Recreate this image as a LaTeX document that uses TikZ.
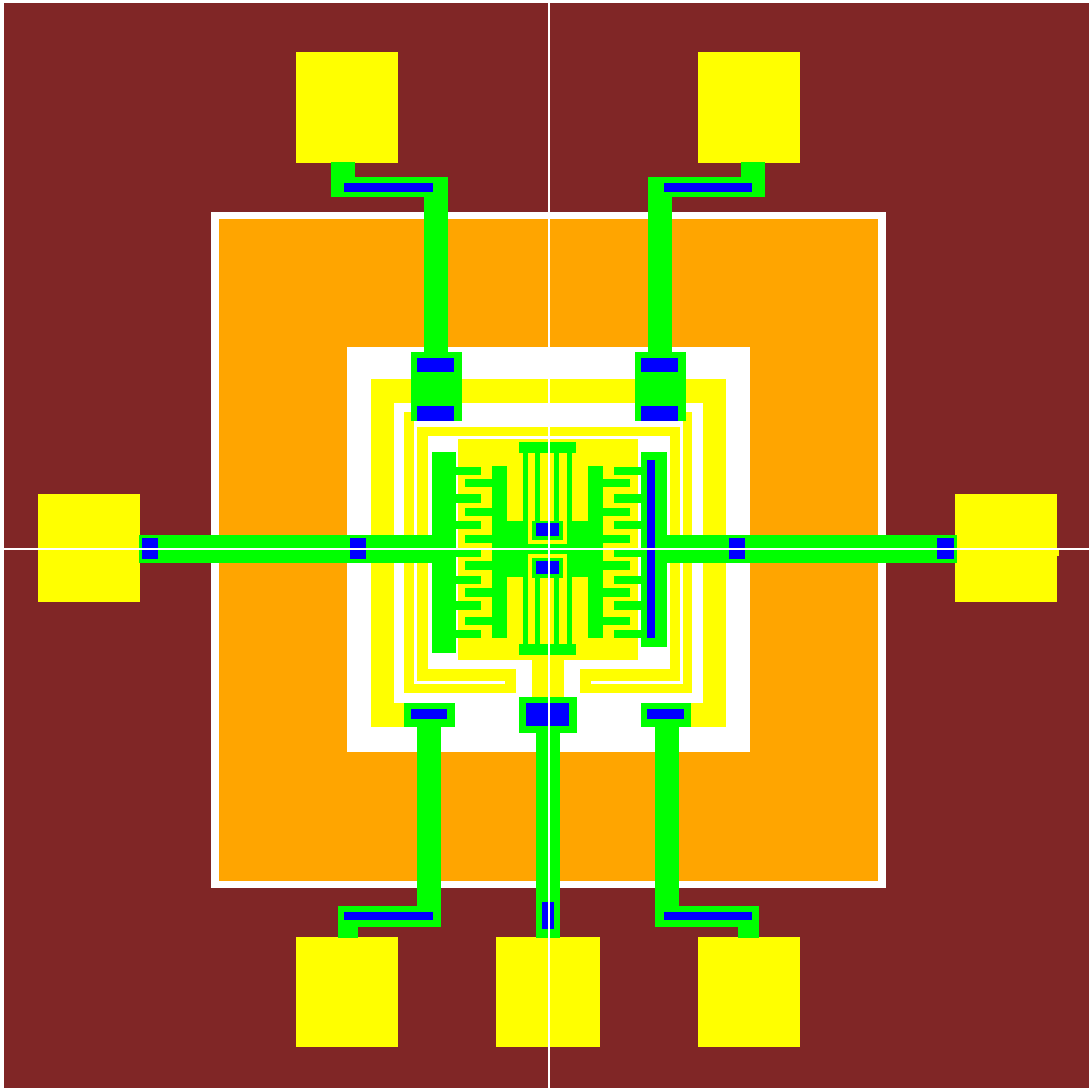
\documentclass[tikz,border=0pt]{standalone}
\definecolor{substrate}{RGB}{128,38,38}
\definecolor{oxide}{RGB}{255,165,0}
\definecolor{poly}{RGB}{255,255,0}
\definecolor{metal}{RGB}{0,255,0}
\definecolor{via}{RGB}{0,0,255}
\tikzset{
  sub/.style={fill=substrate},
  clr/.style={fill=white},
  oxd/.style={fill=oxide},
  yel/.style={fill=poly},
  grn/.style={fill=metal},
  blu/.style={fill=via}
}
\newcommand{\bx}[5]{\path[#5] (#1,#2) rectangle (#3,#4);}
\begin{document}
\begin{tikzpicture}[x=1pt,y=-1pt]
\useasboundingbox (0,0) rectangle (1089,1089);
\bx{0}{0}{1089}{1089}{clr}
\bx{4}{3}{1089}{1088}{sub}
% field
\bx{211}{212}{886}{888}{clr}
\bx{219}{219}{878}{881}{oxd}
\bx{347}{347}{750}{752}{clr}
% outer yellow ring
\bx{371}{379}{726}{727}{yel}
\bx{394}{403}{703}{703}{clr}
\bx{404}{703}{691}{727}{clr}
% L-shaped tracks left
\bx{404}{412}{414}{693}{yel}
\bx{417}{427}{428}{693}{yel}
\bx{404}{669}{516}{693}{yel}
\bx{414}{669}{417}{684}{clr}
\bx{414}{681}{505}{684}{clr}
% L-shaped tracks right
\bx{683}{412}{692}{693}{yel}
\bx{669.5}{427}{680}{693}{yel}
\bx{580}{669}{692}{693}{yel}
\bx{680}{669}{683}{684}{clr}
\bx{591}{681}{683}{684}{clr}
% top track
\bx{417}{427}{680}{435.5}{yel}
% central block
\bx{458}{439}{638}{660}{yel}
\bx{532}{660}{564}{697}{yel}
% pads
\bx{296}{52}{398}{163}{yel}
\bx{698}{52}{800}{163}{yel}
\bx{38}{494}{140}{602}{yel}
\bx{955}{494}{1057}{602}{yel}
\bx{1057}{550}{1059}{556}{yel}
\bx{296}{937}{398}{1047}{yel}
\bx{496}{937}{600}{1047}{yel}
\bx{698}{937}{800}{1047}{yel}
% horizontal leads
\bx{139}{535}{456}{563}{grn}
\bx{641}{535}{957}{563}{grn}
% outer spines
\bx{432}{452}{455.5}{653}{grn}
\bx{641}{452}{667}{647}{grn}
% left comb fingers
\bx{455}{467}{481}{475}{grn}
\bx{455}{494}{481}{503}{grn}
\bx{455}{521}{481}{529}{grn}
\bx{455}{550}{481}{557}{grn}
\bx{455}{576}{481}{584}{grn}
\bx{455}{601}{481}{610}{grn}
\bx{455}{630}{481}{638}{grn}
% right comb fingers
\bx{614}{467}{642}{475}{grn}
\bx{614}{494}{642}{503}{grn}
\bx{614}{521}{642}{529}{grn}
\bx{614}{550}{642}{557}{grn}
\bx{614}{576}{642}{584}{grn}
\bx{614}{601}{642}{610}{grn}
\bx{614}{630}{642}{638}{grn}
% inner spines and centre
\bx{492}{466}{507}{638}{grn}
\bx{588}{466}{603}{638}{grn}
\bx{492}{521}{603}{577}{grn}
% inner fingers
\bx{465}{479}{493}{487}{grn}
\bx{465}{508}{493}{516}{grn}
\bx{465}{535}{493}{543}{grn}
\bx{465}{561}{493}{570}{grn}
\bx{465}{588}{493}{597}{grn}
\bx{465}{617}{493}{625}{grn}
\bx{602}{479}{630}{487}{grn}
\bx{602}{508}{630}{516}{grn}
\bx{602}{535}{630}{543}{grn}
\bx{602}{561}{630}{570}{grn}
\bx{602}{588}{630}{597}{grn}
\bx{602}{617}{630}{625}{grn}
% yellow openings in the centre
\bx{507}{466}{522}{521}{yel}
\bx{574}{466}{588}{521}{yel}
\bx{507}{577}{522}{638}{yel}
\bx{574}{577}{588}{638}{yel}
\bx{528}{453}{567}{544}{yel}
\bx{528}{554}{567}{644}{yel}
% gate bars
\bx{519}{442}{576}{453}{grn}
\bx{519}{644}{576}{655}{grn}
\bx{523}{453}{528}{530}{grn}
\bx{567}{453}{572}{530}{grn}
\bx{523}{570}{528}{644}{grn}
\bx{567}{570}{572}{644}{grn}
\bx{535}{453}{540}{525}{grn}
\bx{554}{453}{559}{525}{grn}
\bx{535}{575}{540}{644}{grn}
\bx{554}{575}{559}{644}{grn}
% centre via boxes
\bx{532}{521}{563}{540}{grn}
\bx{532}{558}{563}{578}{grn}
\bx{536}{523}{559}{536}{blu}
\bx{536}{561}{559}{574}{blu}
% top left lead
\bx{331}{162}{355}{197}{grn}
\bx{331}{177}{448}{197}{grn}
\bx{424}{177}{448}{353}{grn}
\bx{411}{352}{462}{421}{grn}
\bx{344}{183}{433}{191.5}{blu}
\bx{417}{358}{454}{372}{blu}
\bx{417}{406}{454}{421}{blu}
% top right lead
\bx{741}{162}{765}{197}{grn}
\bx{648}{177}{765}{197}{grn}
\bx{648}{177}{672}{353}{grn}
\bx{635}{352}{686}{421}{grn}
\bx{664}{183}{752}{191.5}{blu}
\bx{641}{358}{678}{372}{blu}
\bx{641}{406}{678}{421}{blu}
% bottom left lead
\bx{404}{703}{455}{727}{grn}
\bx{417}{727}{441}{927}{grn}
\bx{338}{906}{441}{927}{grn}
\bx{338}{927}{358}{938}{grn}
\bx{411}{709}{447}{719}{blu}
\bx{344}{912}{433}{920}{blu}
% bottom centre lead
\bx{519}{697}{577}{733}{grn}
\bx{536}{733}{560}{938}{grn}
\bx{526}{703}{569}{726}{blu}
\bx{542}{902}{554}{929}{blu}
% bottom right lead
\bx{641}{703}{691}{727}{grn}
\bx{655}{727}{679}{927}{grn}
\bx{655}{906}{759}{927}{grn}
\bx{738}{927}{759}{938}{grn}
\bx{647}{709}{684}{719}{blu}
\bx{664}{912}{752}{920}{blu}
% vias on horizontal leads
\bx{142}{538}{158}{559}{blu}
\bx{350}{538}{366}{559}{blu}
\bx{729}{538}{745}{559}{blu}
\bx{937}{538}{954}{559}{blu}
\bx{647}{460}{655}{638}{blu}
% cross hairs
\bx{548.4}{3}{550.4}{1088}{clr}
\bx{0}{547.5}{1089}{550}{clr}
\end{tikzpicture}
\end{document}
